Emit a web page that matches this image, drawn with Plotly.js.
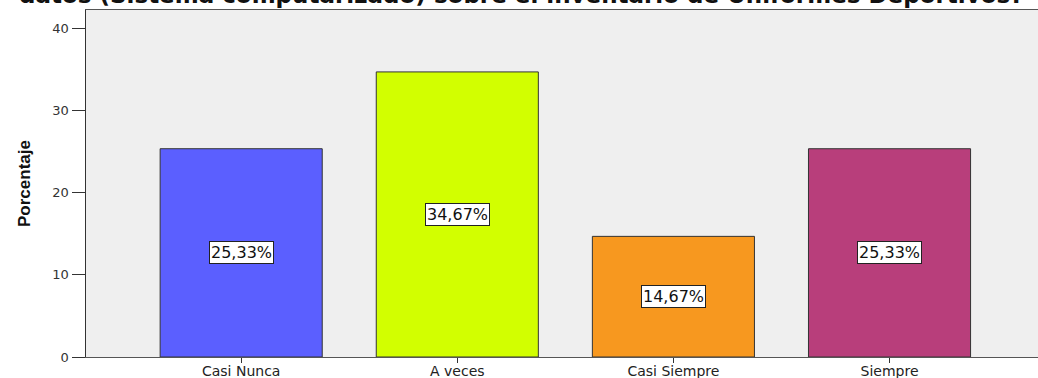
<!DOCTYPE html>
<html>
<head>
<meta charset="utf-8">
<script src="https://cdn.plot.ly/plotly-3.0.1.min.js"></script>
<style>
  html, body { margin: 0; padding: 0; background: #ffffff; }
  #chart { width: 1038px; height: 378px; }
</style>
</head>
<body>
<div id="chart"></div>
<script>
// Respuestas por categoría (porcentaje)
const categories = ['Casi Nunca', 'A veces', 'Casi Siempre', 'Siempre'];
const percentages = [25.33, 34.67, 14.67, 25.33];
const barColors = ['#5b5fff', '#d2ff00', '#f7981f', '#b83e7b'];
const yTicks = [0, 10, 20, 30, 40];

const chartTitle = 'datos (Sistema computarizado) sobre el inventario de Uniformes Deportivos?';

function fmtPct(v) {
  return v.toFixed(2).replace('.', ',') + '%';
}

const trace = {
  type: 'bar',
  x: categories,
  y: percentages,
  width: 0.75,
  marker: {
    color: barColors,
    line: { color: '#333333', width: 1 }
  },
  hoverinfo: 'skip'
};

// Etiquetas en recuadro blanco a media altura de cada barra
const labels = categories.map((c, i) => ({
  x: c,
  y: percentages[i] / 2,
  xref: 'x',
  yref: 'y',
  text: fmtPct(percentages[i]),
  showarrow: false,
  font: { family: 'DejaVu Sans, Verdana, sans-serif', size: 16, color: '#111111' },
  bgcolor: '#ffffff',
  bordercolor: '#222222',
  borderwidth: 1,
  borderpad: 1
}));

labels.push({
  x: 0.457,
  y: 1.043,
  xref: 'paper',
  yref: 'paper',
  xanchor: 'center',
  yanchor: 'middle',
  text: '<b>' + chartTitle + '</b>',
  showarrow: false,
  font: { family: 'DejaVu Sans, Verdana, sans-serif', size: 23, color: '#111111' }
});

const layout = {
  width: 1038,
  height: 378,
  margin: { l: 86, r: 0, t: 10, b: 21 },
  paper_bgcolor: '#ffffff',
  plot_bgcolor: '#efefef',
  showlegend: false,
  xaxis: {
    type: 'category',
    range: [-0.718, 3.687],
    showgrid: false,
    zeroline: false,
    showline: true,
    linecolor: '#555555',
    linewidth: 1,
    mirror: true,
    ticks: 'outside',
    ticklen: 5,
    tickcolor: '#333333',
    ticklabelstandoff: -4,
    tickfont: { family: 'DejaVu Sans, Verdana, sans-serif', size: 14, color: '#222222' }
  },
  yaxis: {
    range: [0, 42.2],
    tickvals: yTicks,
    ticktext: yTicks.map(String),
    showgrid: false,
    zeroline: false,
    showline: true,
    linecolor: '#333333',
    linewidth: 1.5,
    ticks: 'outside',
    ticklen: 13,
    tickcolor: '#333333',
    tickfont: { family: 'DejaVu Sans, Verdana, sans-serif', size: 13, color: '#333333' },
    title: {
      text: '<b>Porcentaje</b>',
      standoff: 17,
      font: { family: 'Liberation Sans, Arial, sans-serif', size: 17, color: '#111111' }
    }
  },
  annotations: labels
};

Plotly.newPlot('chart', [trace], layout, { displayModeBar: false, staticPlot: true });
</script>
</body>
</html>
